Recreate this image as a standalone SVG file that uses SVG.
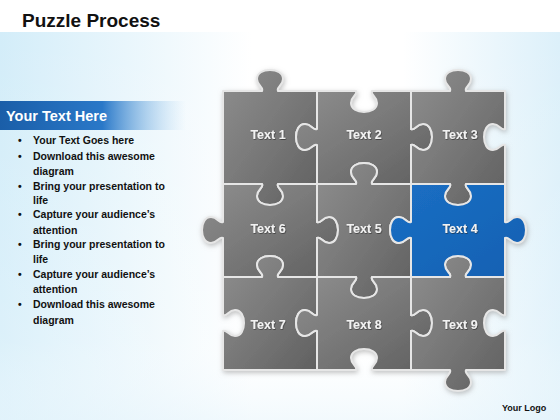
<svg xmlns="http://www.w3.org/2000/svg" width="560" height="420" viewBox="0 0 560 420">
<defs>
<linearGradient id="bg" x1="0" y1="0" x2="1" y2="0">
<stop offset="0" stop-color="#d3edf9"/>
<stop offset="0.45" stop-color="#ffffff"/>
<stop offset="0.72" stop-color="#ffffff"/>
<stop offset="1" stop-color="#dcf0fa"/>
</linearGradient>
<linearGradient id="bgv" x1="0" y1="0" x2="0" y2="1">
<stop offset="0" stop-color="#ffffff" stop-opacity="0"/>
<stop offset="0.8" stop-color="#ffffff" stop-opacity="0.2"/>
<stop offset="1" stop-color="#eaf6fc" stop-opacity="0.6"/>
</linearGradient>
<linearGradient id="bar" x1="0" y1="0" x2="1" y2="0">
<stop offset="0" stop-color="#1a5ea8"/>
<stop offset="0.55" stop-color="#2a78c8"/>
<stop offset="1" stop-color="#9fcdef" stop-opacity="0"/>
</linearGradient>
<linearGradient id="grey" x1="0" y1="0" x2="1" y2="1">
<stop offset="0" stop-color="#8e8e8e"/>
<stop offset="0.5" stop-color="#787878"/>
<stop offset="1" stop-color="#606060"/>
</linearGradient>
<linearGradient id="blue" x1="0" y1="0" x2="1" y2="1">
<stop offset="0" stop-color="#1b6fc4"/>
<stop offset="1" stop-color="#1460b2"/>
</linearGradient>
<filter id="sh" x="-10%" y="-10%" width="120%" height="120%">
<feGaussianBlur in="SourceAlpha" stdDeviation="2.5"/>
<feOffset dx="1" dy="2" result="b"/>
<feFlood flood-color="#9a9a9a" flood-opacity="0.6"/>
<feComposite in2="b" operator="in"/>
<feMerge><feMergeNode/><feMergeNode in="SourceGraphic"/></feMerge>
</filter>
<filter id="ts" x="-10%" y="-30%" width="120%" height="160%">
<feDropShadow dx="0.6" dy="0.8" stdDeviation="0.6" flood-color="#222" flood-opacity="0.7"/>
</filter>
<style>
.pc{fill:url(#grey);stroke:#e6e6e6;stroke-width:2;stroke-linejoin:round}
.pb{fill:url(#blue);stroke:#e6e6e6;stroke-width:2;stroke-linejoin:round}
.lbl{font-family:"Liberation Sans",Arial,sans-serif;font-size:12.5px;font-weight:bold;fill:#f2f2f2;text-anchor:middle;filter:url(#ts)}
.bl{font-family:"Liberation Sans",Arial,sans-serif;font-size:10.5px;font-weight:bold;fill:#111}
</style>
</defs>
<rect width="560" height="420" fill="#ffffff"/>
<rect x="0" y="32" width="560" height="388" fill="url(#bg)"/>
<rect x="0" y="32" width="560" height="388" fill="url(#bgv)"/>
<text x="22" y="27" font-family="Liberation Sans,Arial,sans-serif" font-size="19" font-weight="bold" fill="#111">Puzzle Process</text>
<g id="sidebar">
<rect x="0" y="101" width="186" height="29" fill="url(#bar)"/>
<text x="6" y="121" font-family="Liberation Sans,Arial,sans-serif" font-size="14.5" font-weight="bold" fill="#ffffff">Your Text Here</text>
<g class="bl">
<text x="18" y="144">•</text><text x="33" y="144">Your Text Goes here</text>
<text x="18" y="160">•</text><text x="33" y="160">Download this awesome</text>
<text x="33" y="175">diagram</text>
<text x="18" y="190">•</text><text x="33" y="190">Bring your presentation to</text>
<text x="33" y="204">life</text>
<text x="18" y="218">•</text><text x="33" y="218">Capture your audience’s</text>
<text x="33" y="234">attention</text>
<text x="18" y="248">•</text><text x="33" y="248">Bring your presentation to</text>
<text x="33" y="263">life</text>
<text x="18" y="278">•</text><text x="33" y="278">Capture your audience’s</text>
<text x="33" y="293">attention</text>
<text x="18" y="308">•</text><text x="33" y="308">Download this awesome</text>
<text x="33" y="324">diagram</text>
</g>
</g>
<g id="puzzle" filter="url(#sh)">
<g id="piece1"><path class="pc" d="M223,91 H262 c2,-4 -5,-5 -5,-12 c0,-6 6,-9 13,-9 c7,0 13,3 13,9 c0,7 -7,8 -5,12 H317 V129 c-4,2 -5,-5 -12,-5 c-6,0 -9,6 -9,13 c0,7 3,13 9,13 c7,0 8,-7 12,-5 V184 H278 c-2,4 5,5 5,12 c0,6 -6,9 -13,9 c-7,0 -13,-3 -13,-9 c0,-7 7,-8 5,-12 H223 Z"/></g>
<g id="piece2"><path class="pc" d="M317,91 H356 c2,4 -5,5 -5,12 c0,6 6,9 13,9 c7,0 13,-3 13,-9 c0,-7 -7,-8 -5,-12 H411 V129 c4,2 5,-5 12,-5 c6,0 9,6 9,13 c0,7 -3,13 -9,13 c-7,0 -8,-7 -12,-5 V184 H372 c-2,-4 5,-5 5,-12 c0,-6 -6,-9 -13,-9 c-7,0 -13,3 -13,9 c0,7 7,8 5,12 H317 V145 c-4,-2 -5,5 -12,5 c-6,0 -9,-6 -9,-13 c0,-7 3,-13 9,-13 c7,0 8,7 12,5 Z"/></g>
<g id="piece3"><path class="pc" d="M411,91 H450 c2,-4 -5,-5 -5,-12 c0,-6 6,-9 13,-9 c7,0 13,3 13,9 c0,7 -7,8 -5,12 H505 V129 c-4,2 -5,-5 -12,-5 c-6,0 -9,6 -9,13 c0,7 3,13 9,13 c7,0 8,-7 12,-5 V184 H466 c-2,4 5,5 5,12 c0,6 -6,9 -13,9 c-7,0 -13,-3 -13,-9 c0,-7 7,-8 5,-12 H411 V145 c4,-2 5,5 12,5 c6,0 9,-6 9,-13 c0,-7 -3,-13 -9,-13 c-7,0 -8,7 -12,5 Z"/></g>
<g id="piece6"><path class="pc" d="M223,184 H262 c2,4 -5,5 -5,12 c0,6 6,9 13,9 c7,0 13,-3 13,-9 c0,-7 -7,-8 -5,-12 H317 V222 c4,2 5,-5 12,-5 c6,0 9,6 9,13 c0,7 -3,13 -9,13 c-7,0 -8,-7 -12,-5 V277 H278 c-2,-4 5,-5 5,-12 c0,-6 -6,-9 -13,-9 c-7,0 -13,3 -13,9 c0,7 7,8 5,12 H223 V238 c-4,-2 -5,5 -12,5 c-6,0 -9,-6 -9,-13 c0,-7 3,-13 9,-13 c7,0 8,7 12,5 Z"/></g>
<g id="piece5"><path class="pc" d="M317,184 H356 c2,-4 -5,-5 -5,-12 c0,-6 6,-9 13,-9 c7,0 13,3 13,9 c0,7 -7,8 -5,12 H411 V222 c-4,2 -5,-5 -12,-5 c-6,0 -9,6 -9,13 c0,7 3,13 9,13 c7,0 8,-7 12,-5 V277 H372 c-2,4 5,5 5,12 c0,6 -6,9 -13,9 c-7,0 -13,-3 -13,-9 c0,-7 7,-8 5,-12 H317 V238 c4,-2 5,5 12,5 c6,0 9,-6 9,-13 c0,-7 -3,-13 -9,-13 c-7,0 -8,7 -12,5 Z"/></g>
<g id="piece7"><path class="pc" d="M223,277 H262 c2,-4 -5,-5 -5,-12 c0,-6 6,-9 13,-9 c7,0 13,3 13,9 c0,7 -7,8 -5,12 H317 V315 c-4,2 -5,-5 -12,-5 c-6,0 -9,6 -9,13 c0,7 3,13 9,13 c7,0 8,-7 12,-5 V370 H223 V331 c4,-2 5,5 12,5 c6,0 9,-6 9,-13 c0,-7 -3,-13 -9,-13 c-7,0 -8,7 -12,5 Z"/></g>
<g id="piece8"><path class="pc" d="M317,277 H356 c2,4 -5,5 -5,12 c0,6 6,9 13,9 c7,0 13,-3 13,-9 c0,-7 -7,-8 -5,-12 H411 V315 c4,2 5,-5 12,-5 c6,0 9,6 9,13 c0,7 -3,13 -9,13 c-7,0 -8,-7 -12,-5 V370 H372 c-2,-4 5,-5 5,-12 c0,-6 -6,-9 -13,-9 c-7,0 -13,3 -13,9 c0,7 7,8 5,12 H317 V331 c-4,-2 -5,5 -12,5 c-6,0 -9,-6 -9,-13 c0,-7 3,-13 9,-13 c7,0 8,7 12,5 Z"/></g>
<g id="piece9"><path class="pc" d="M411,277 H450 c2,-4 -5,-5 -5,-12 c0,-6 6,-9 13,-9 c7,0 13,3 13,9 c0,7 -7,8 -5,12 H505 V315 c-4,2 -5,-5 -12,-5 c-6,0 -9,6 -9,13 c0,7 3,13 9,13 c7,0 8,-7 12,-5 V370 H466 c-2,4 5,5 5,12 c0,6 -6,9 -13,9 c-7,0 -13,-3 -13,-9 c0,-7 7,-8 5,-12 H411 V331 c4,-2 5,5 12,5 c6,0 9,-6 9,-13 c0,-7 -3,-13 -9,-13 c-7,0 -8,7 -12,5 Z"/></g>
<g id="piece4"><path class="pb" d="M411,184 H450 c2,4 -5,5 -5,12 c0,6 6,9 13,9 c7,0 13,-3 13,-9 c0,-7 -7,-8 -5,-12 H505 V222 c4,2 5,-5 12,-5 c6,0 9,6 9,13 c0,7 -3,13 -9,13 c-7,0 -8,-7 -12,-5 V277 H466 c-2,-4 5,-5 5,-12 c0,-6 -6,-9 -13,-9 c-7,0 -13,3 -13,9 c0,7 7,8 5,12 H411 V238 c-4,-2 -5,5 -12,5 c-6,0 -9,-6 -9,-13 c0,-7 3,-13 9,-13 c7,0 8,7 12,5 Z"/></g>
</g>
<g id="labels">
<text class="lbl" x="268" y="139">Text 1</text>
<text class="lbl" x="364" y="139">Text 2</text>
<text class="lbl" x="460" y="139">Text 3</text>
<text class="lbl" x="268" y="233">Text 6</text>
<text class="lbl" x="364" y="233">Text 5</text>
<text class="lbl" x="460" y="233">Text 4</text>
<text class="lbl" x="268" y="329">Text 7</text>
<text class="lbl" x="364" y="329">Text 8</text>
<text class="lbl" x="460" y="329">Text 9</text>
</g>
<g id="connectors"/>
<text x="502" y="411" font-family="Liberation Sans,Arial,sans-serif" font-size="9" font-weight="bold" fill="#111">Your Logo</text>
</svg>
